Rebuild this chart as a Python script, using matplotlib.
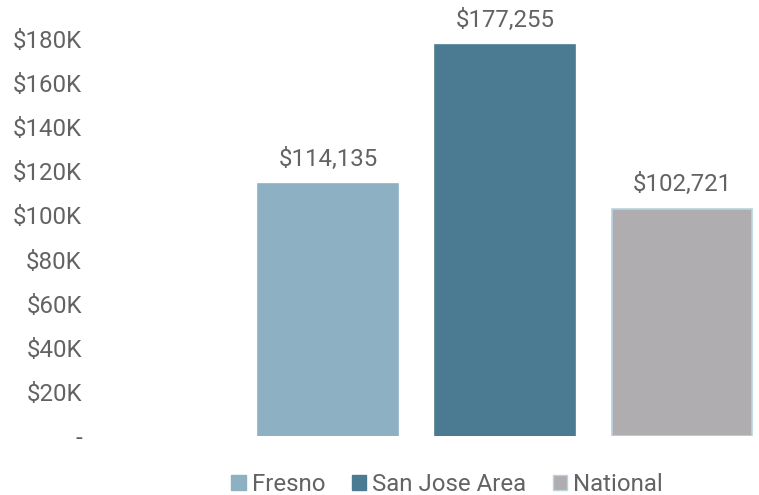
import matplotlib.pyplot as plt
from matplotlib.patches import Patch

# data
categories = ['Fresno', 'San Jose Area', 'National']
salaries = [114135, 177255, 102721]
bar_colors = ['#8DB1C3', '#4A7B92', '#AFADB0']
edge_colors = ['#8DB1C3', '#4A7B92', '#B9D3DE']
ytick_vals = [0, 20000, 40000, 60000, 80000, 100000, 120000, 140000, 160000, 180000]
ytick_labels = ['-', '$20K', '$40K', '$60K', '$80K', '$100K', '$120K', '$140K', '$160K', '$180K']

plt.rcParams['font.family'] = ['Roboto', 'DejaVu Sans']
txt = '#636363'
fs = 17.3

fig = plt.figure(figsize=(7.59, 4.95), dpi=100)
ax = fig.add_axes([95 / 759, 59 / 495, (759 - 95) / 759, 436 / 495])

x = range(len(categories))
ax.bar(x, salaries, width=0.79, color=bar_colors, edgecolor=edge_colors, linewidth=1.2)

for i, v in enumerate(salaries):
    ax.text(i, v + 6000, '${:,}'.format(v), ha='center', va='bottom', fontsize=fs, color=txt)

ax.set_xlim(-1.316, 2.435)
ax.set_ylim(0, 197700)
ax.set_yticks(ytick_vals)
ax.set_yticklabels(ytick_labels, fontsize=fs, color=txt)
ax.tick_params(axis='y', length=0, pad=9.4)
ax.set_xticks([])
for s in ax.spines.values():
    s.set_visible(False)

handles = [Patch(facecolor=bar_colors[i], edgecolor=edge_colors[i], label=categories[i]) for i in range(3)]
leg = fig.legend(handles=handles, loc='lower center', bbox_to_anchor=(0.589, -0.045), ncol=3,
                 frameon=False, fontsize=fs, handlelength=0.6, handleheight=0.6,
                 handletextpad=0.25, columnspacing=1.1)
for t in leg.get_texts():
    t.set_color(txt)

fig.savefig('out.png', dpi=100)
